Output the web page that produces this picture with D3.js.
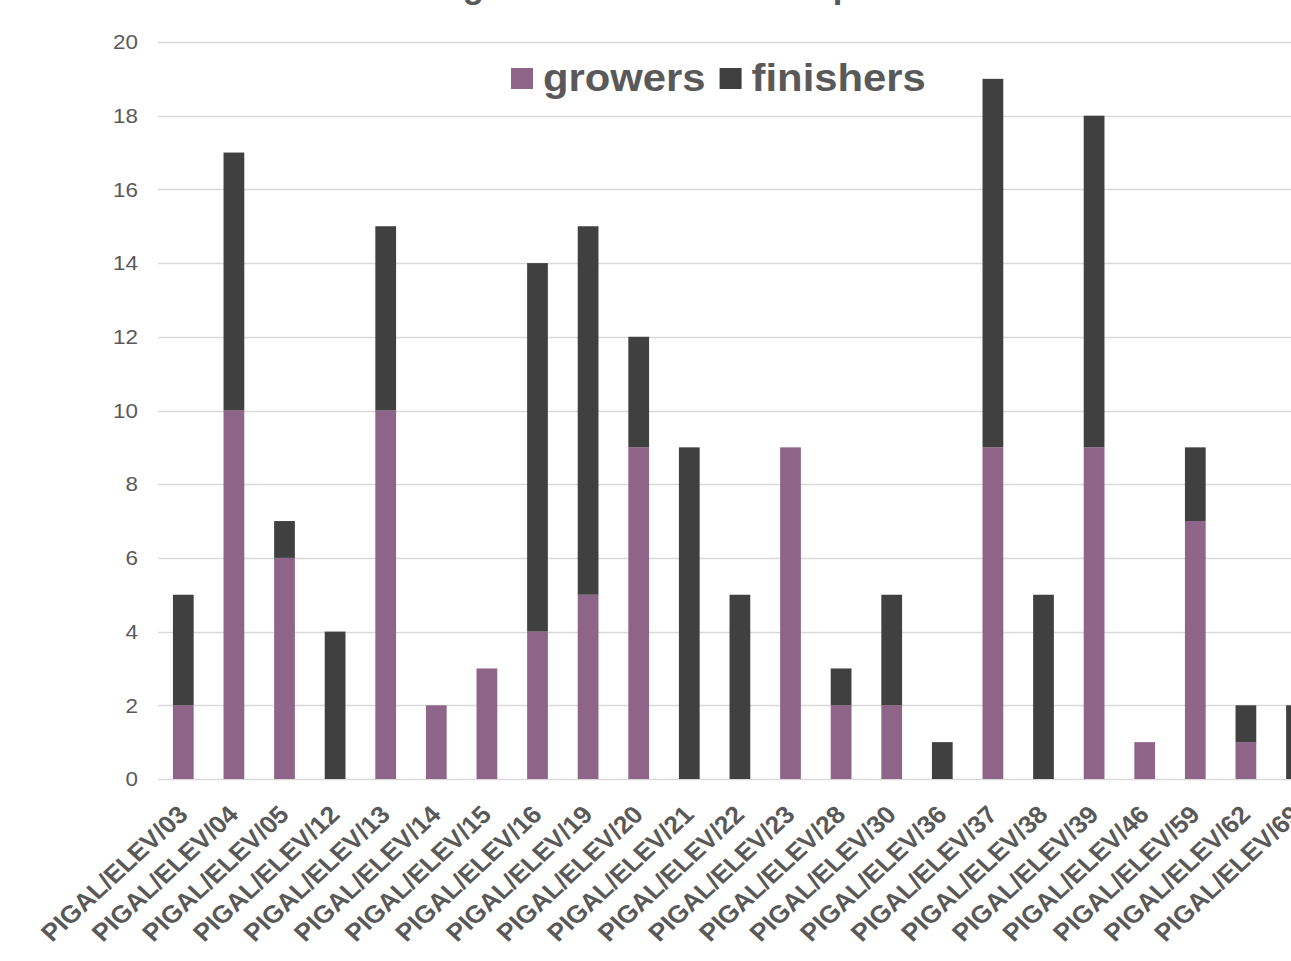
<!DOCTYPE html>
<html>
<head>
<meta charset="utf-8">
<script src="https://cdn.jsdelivr.net/npm/d3@7"></script>
<style>
  body { margin: 0; background: #fff; }
  svg { display: block; font-family: "Liberation Sans", Arial, sans-serif; }
</style>
</head>
<body>
<div id="wrapper"></div>
<script>
// chart data
const farms = ["PIGAL/ELEV/03", "PIGAL/ELEV/04", "PIGAL/ELEV/05", "PIGAL/ELEV/12", "PIGAL/ELEV/13",
  "PIGAL/ELEV/14", "PIGAL/ELEV/15", "PIGAL/ELEV/16", "PIGAL/ELEV/19", "PIGAL/ELEV/20",
  "PIGAL/ELEV/21", "PIGAL/ELEV/22", "PIGAL/ELEV/23", "PIGAL/ELEV/28", "PIGAL/ELEV/30",
  "PIGAL/ELEV/36", "PIGAL/ELEV/37", "PIGAL/ELEV/38", "PIGAL/ELEV/39", "PIGAL/ELEV/46",
  "PIGAL/ELEV/59", "PIGAL/ELEV/62", "PIGAL/ELEV/69"]
const growers   = [2, 10, 6, 0, 10, 2, 3, 4, 5, 9, 0, 0, 9, 2, 2, 0, 9, 0, 9, 1, 7, 1, 0]
const finishers = [3, 7, 1, 4, 5, 0, 0, 10, 10, 3, 9, 5, 0, 1, 3, 1, 10, 5, 9, 0, 2, 1, 2]
const seriesNames = ["growers", "finishers"]
const yTicks = [0, 2, 4, 6, 8, 10, 12, 14, 16, 18, 20]
const titleText = "Number of growers and finishers per farm"

const colors = { growers: "#8e6488", finishers: "#404040" }
const textColor = "#595959"

const dims = { width: 1291, height: 961 }
const plot = { left: 158, top: 42, bottom: 779, step: 50.6 }

const rows = farms.map((f, i) => ({ farm: f, growers: growers[i], finishers: finishers[i] }))

const svg = d3.select("#wrapper")
  .append("svg")
  .attr("width", dims.width)
  .attr("height", dims.height)

const xScale = d3.scaleBand()
  .domain(farms)
  .range([plot.left, plot.left + plot.step * farms.length])
  .paddingInner(0.59)
  .paddingOuter(0.295)

const yScale = d3.scaleLinear()
  .domain([0, 20])
  .range([plot.bottom, plot.top])

// gridlines
svg.append("g")
  .selectAll("line")
  .data(yTicks)
  .join("line")
  .attr("x1", plot.left)
  .attr("x2", dims.width)
  .attr("y1", d => Math.round(yScale(d)) + 0.5)
  .attr("y2", d => Math.round(yScale(d)) + 0.5)
  .attr("stroke", "#d9d9d9")
  .attr("stroke-width", 1.5)

// y tick labels
svg.append("g")
  .selectAll("g")
  .data(yTicks)
  .join("g")
  .attr("transform", d => `translate(138,${yScale(d)}) scale(1.12,1)`)
  .append("text")
  .attr("text-anchor", "end")
  .attr("dy", "0.36em")
  .attr("fill", textColor)
  .style("font-size", "20px")
  .text(d => d)

// stacked bars
const stack = d3.stack().keys(seriesNames)
const layers = stack(rows)

svg.append("g")
  .selectAll("g")
  .data(layers)
  .join("g")
  .attr("fill", d => colors[d.key])
  .selectAll("rect")
  .data(d => d.filter(s => s[1] > s[0]))
  .join("rect")
  .attr("x", d => xScale(d.data.farm))
  .attr("width", xScale.bandwidth())
  .attr("y", d => yScale(d[1]))
  .attr("height", d => yScale(d[0]) - yScale(d[1]))

// x labels, rotated
svg.append("g")
  .selectAll("g")
  .data(farms)
  .join("g")
  .attr("transform", d => `translate(${xScale(d) + xScale.bandwidth() / 2 + 6},816) scale(1.08,1) rotate(-45)`)
  .append("text")
  .attr("text-anchor", "end")
  .attr("fill", textColor)
  .style("font-size", "24.5px")
  .style("font-weight", "bold")
  .text(d => d)

// legend
const legend = svg.append("g")
let lx = 511
seriesNames.forEach(name => {
  legend.append("rect")
    .attr("x", lx)
    .attr("y", 68)
    .attr("width", 22)
    .attr("height", 21)
    .attr("fill", colors[name])
  const t = legend.append("g")
    .attr("transform", `translate(${lx + 32},91) scale(1.1,1)`)
    .append("text")
    .attr("fill", textColor)
    .style("font-size", "38px")
    .style("font-weight", "bold")
    .text(name)
  lx += 32 + t.node().getComputedTextLength() * 1.1 + 14
})

// title, mostly above the visible area; sized so "g" and "p" fall where the reference shows them
const title = svg.append("g")
const titleT = title.append("text")
  .attr("fill", textColor)
  .style("font-size", "36px")
  .style("font-weight", "bold")
  .text(titleText)
const node = titleT.node()
const gAt = node.getSubStringLength(0, titleText.indexOf("growers"))
const pAt = node.getSubStringLength(0, titleText.indexOf("per"))
const k = 370 / (pAt - gAt)
titleT.style("font-size", (36 * k) + "px")
title.attr("transform", `translate(${463 - gAt * k},-2)`)
</script>
</body>
</html>
